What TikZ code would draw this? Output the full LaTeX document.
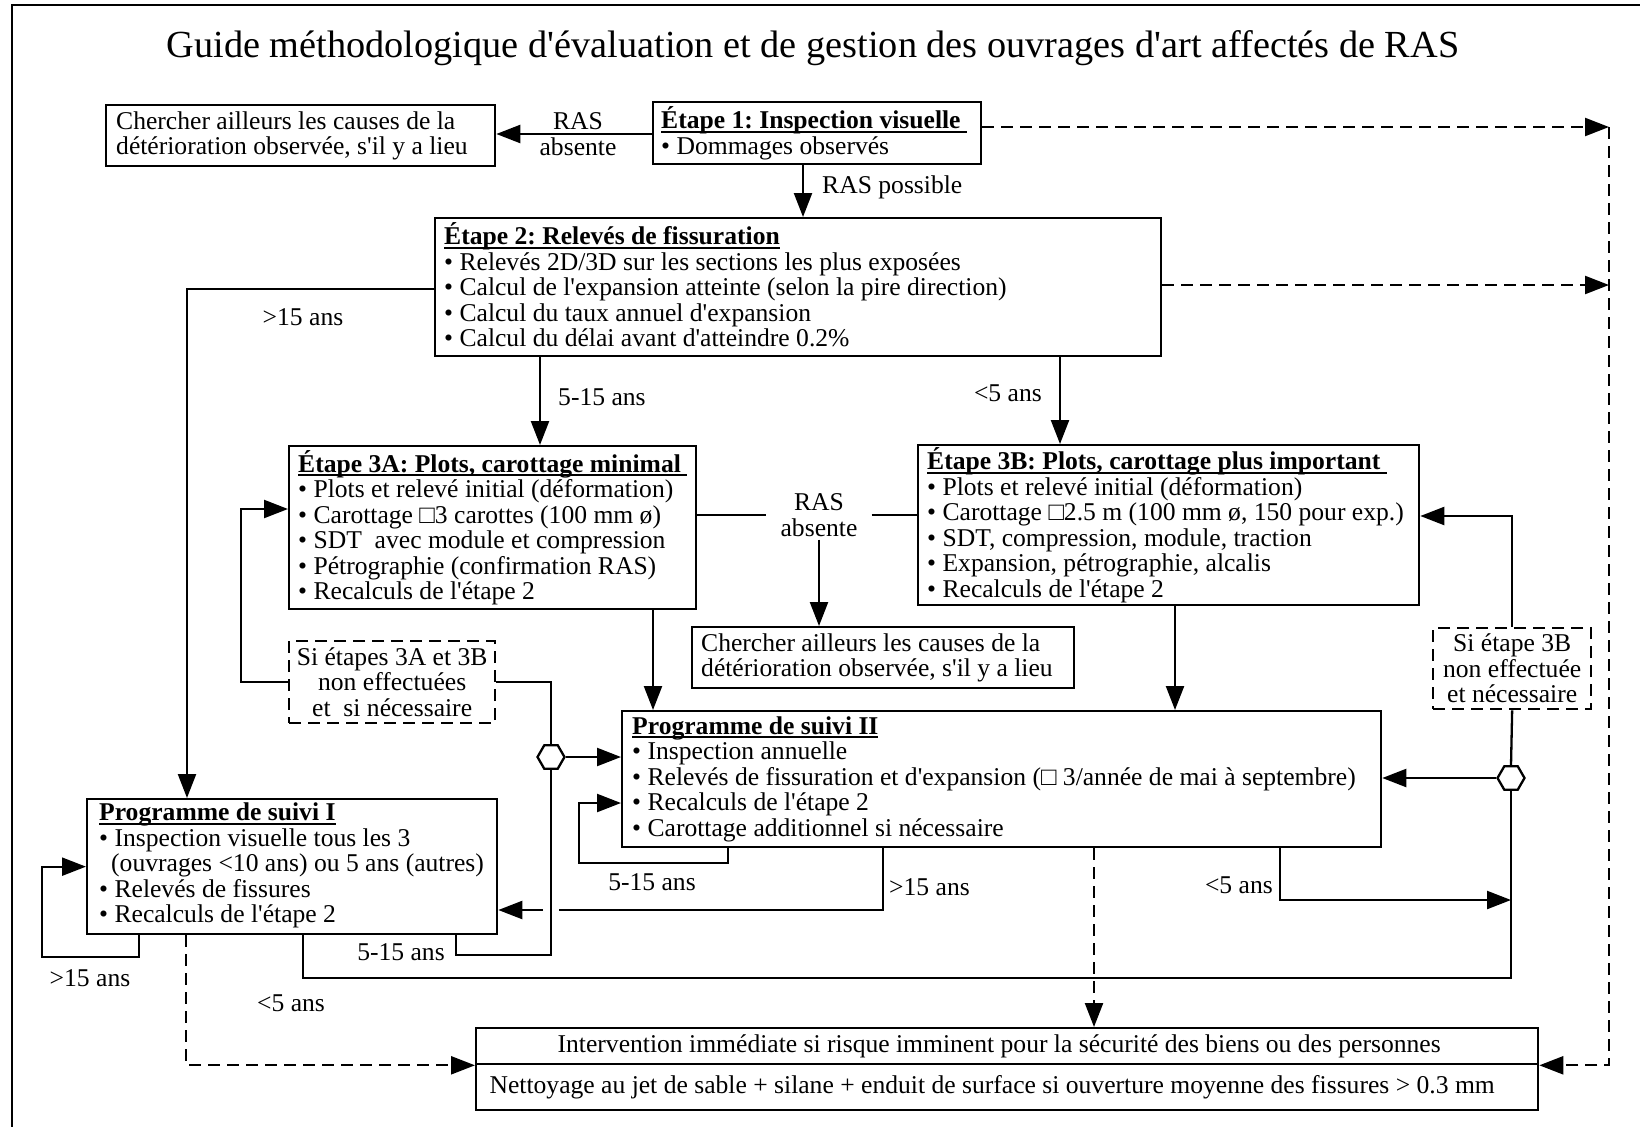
\documentclass[tikz,border=0pt]{standalone}
\usepackage{fontspec}
\setmainfont{Liberation Serif}
\usetikzlibrary{arrows.meta,shapes.geometric}
\newcommand{\bodyfont}{\fontsize{25.6}{25.5}\selectfont}
\newcommand{\titlefont}{\fontsize{38.3}{41}\selectfont}
\newcommand{\apo}{\textquotesingle}
\newsavebox\hdrbox
\newcommand{\hdr}[1]{\sbox\hdrbox{\bfseries #1}\rlap{\rule[-4pt]{\wd\hdrbox}{1.9pt}}\usebox\hdrbox}
\frenchspacing
\begin{document}
\begin{tikzpicture}[x=1pt,y=-1pt,
  bx/.style={draw,line width=2.3pt,inner sep=0pt,anchor=north west},
  dbx/.style={bx,dash pattern=on 12pt off 7pt},
  txt/.style={inner sep=0pt,align=left,font=\bodyfont,anchor=west},
  ctxt/.style={inner sep=0pt,align=center,font=\bodyfont},
  lbl/.style={inner sep=0pt,font=\bodyfont},
  con/.style={line width=2.3pt},
  tip/.style={-{Triangle[length=24pt,width=18pt]}},
  arr/.style={con,tip},
  dsh/.style={con,dash pattern=on 12pt off 7pt},
  dsharr/.style={dsh,tip},
  hex/.style={draw,line width=2.3pt,fill=white,regular polygon,regular polygon sides=6,minimum size=27pt,inner sep=0pt}
]
\useasboundingbox (0,0) rectangle (1640,1127);
\fill[white] (0,0) rectangle (1640,1127);
\draw[line width=2.3pt] (1640,5) -- (12,5) -- (12,1127);

\node[font=\titlefont,anchor=base,inner sep=0pt] (title) at (813,57) {Guide méthodologique d\apo évaluation et de gestion des ouvrages d\apo art affectés de RAS};

% boxes
\node[bx,minimum width=389pt,minimum height=61pt] (A) at (105,104) {};
\node[txt] (At) at ([xshift=11pt]A.west) {Chercher ailleurs les causes de la\\détérioration observée, s\apo il y a lieu};

\node[bx,minimum width=328pt,minimum height=62pt] (E1) at (652,101) {};
\node[txt] (E1t) at ([xshift=9pt]E1.west) {\hdr{Étape 1: Inspection visuelle\ }\\• Dommages observés};

\node[bx,minimum width=726pt,minimum height=138pt] (E2) at (434,217) {};
\node[txt] (E2t) at ([xshift=10pt,yshift=2pt]E2.west) {\hdr{Étape 2: Relevés de fissuration}\\• Relevés 2D/3D sur les sections les plus exposées\\• Calcul de l\apo expansion atteinte (selon la pire direction)\\• Calcul du taux annuel d\apo expansion\\• Calcul du délai avant d\apo atteindre 0.2\%};

\node[bx,minimum width=407pt,minimum height=163pt] (E3A) at (288,445) {};
\node[txt] (E3At) at ([xshift=10pt]E3A.west) {\hdr{Étape 3A: Plots, carottage minimal\ }\\• Plots et relevé initial (déformation)\\• Carottage □3 carottes (100 mm ø)\\• SDT\ \ avec module et compression\\• Pétrographie (confirmation RAS)\\• Recalculs de l\apo étape 2};

\node[bx,minimum width=501pt,minimum height=160pt] (E3B) at (917,444) {};
\node[txt] (E3Bt) at ([xshift=10pt]E3B.west) {\hdr{Étape 3B: Plots, carottage plus important\ }\\• Plots et relevé initial (déformation)\\• Carottage □2.5 m (100 mm ø, 150 pour exp.)\\• SDT, compression, module, traction\\• Expansion, pétrographie, alcalis\\• Recalculs de l\apo étape 2};

\node[bx,minimum width=382pt,minimum height=61pt] (C) at (691,626) {};
\node[txt] (Ct) at ([xshift=10pt]C.west) {Chercher ailleurs les causes de la\\détérioration observée, s\apo il y a lieu};

\node[dbx,minimum width=206pt,minimum height=82pt] (DL) at (288,640) {};
\node[ctxt] (DLt) at (DL.center) {Si étapes 3A et 3B\\non effectuées\\et\ \ si nécessaire};

\node[dbx,minimum width=158pt,minimum height=81pt] (DR) at (1432,627) {};
\node[ctxt] (DRt) at (DR.center) {Si étape 3B\\non effectuée\\et nécessaire};

\node[bx,minimum width=410pt,minimum height=135pt] (P1) at (86,798) {};
\node[txt] (P1t) at ([xshift=13pt,yshift=1pt]P1.west) {\hdr{Programme de suivi I}\\• Inspection visuelle tous les 3\\\hspace*{12pt}(ouvrages <10 ans) ou 5 ans (autres)\\• Relevés de fissures\\• Recalculs de l\apo étape 2};

\node[bx,minimum width=759pt,minimum height=136pt] (P2) at (621,710) {};
\node[txt] (P2t) at ([xshift=11pt]P2.west) {\hdr{Programme de suivi II}\\• Inspection annuelle\\• Relevés de fissuration et d\apo expansion (□ 3/année de mai à septembre)\\• Recalculs de l\apo étape 2\\• Carottage additionnel si nécessaire};

\node[bx,minimum width=1062pt,minimum height=36pt] (bot1) at (475,1027) {};
\node[ctxt] (bot1t) at ([xshift=-8pt]bot1.center) {Intervention immédiate si risque imminent pour la sécurité des biens ou des personnes};
\node[bx,minimum width=1062pt,minimum height=46pt] (bot2) at (475,1063) {};
\node[ctxt] (bot2t) at ([xshift=-15pt]bot2.center) {Nettoyage au jet de sable + silane + enduit de surface si ouverture moyenne des fissures > 0.3 mm};

\node[hex] (hexL) at (551,757) {};
\node[hex] (hexR) at (1511,778) {};

% rails
\coordinate (d0) at (0,134);
\coordinate (v1) at (803,0);
\coordinate (rx) at (1609,0);
\coordinate (d1) at (0,127);
\coordinate (d2) at (0,285);
\coordinate (d3) at (0,289);
\coordinate (v3) at (187,0);
\coordinate (v4) at (540,0);
\coordinate (v5) at (1060,0);
\coordinate (v6) at (653,0);
\coordinate (v7) at (1175,0);
\coordinate (cL) at (241,509);
\coordinate (v8) at (456,955);
\coordinate (lp1) at (42,957);
\coordinate (v9) at (139,0);
\coordinate (v10) at (303,978);
\coordinate (v11) at (186,0);
\coordinate (lp2) at (579,863);
\coordinate (v12) at (728,0);
\coordinate (h803) at (0,803);
\coordinate (v13) at (883,910);
\coordinate (g1) at (559,910);
\coordinate (g2) at (543,910);
\coordinate (v14) at (1280,900);
\coordinate (v15) at (1094,0);
\coordinate (h516) at (0,516);

% connectors
\draw[arr] (E1.west |- d0) -- (A.east |- d0);
\node[lbl,align=center] (l1) at (578,134) {RAS\\absente};

\draw[arr] (E1.south -| v1) -- (E2.north -| v1);
\node[lbl,anchor=west] (l2) at (822,187) {RAS possible};

\draw[dsharr] (E1.east |- d1) -- (rx |- d1);
\draw[dsharr] (rx |- d1) |- (bot1.south east);
\draw[dsharr] (E2.east |- d2) -- (rx |- d2);

\draw[arr] (E2.west |- d3) -| (P1.north -| v3);
\node[lbl] (l3) at (303,317) {>15 ans};

\draw[arr] (E2.south -| v4) -- (E3A.north -| v4);
\node[lbl,anchor=west] (l4) at (558,397) {5-15 ans};
\draw[arr] (E2.south -| v5) -- (E3B.north -| v5);
\node[lbl,anchor=east] (l5) at (1042,393) {<5 ans};

\node[lbl,align=center,inner xsep=14pt,inner ysep=3pt] (ras2) at (819,515) {RAS\\absente};
\draw[con] (E3A.east |- ras2) -- (ras2.west);
\draw[con] (ras2.east) -- (E3B.west |- ras2);
\draw[arr] (ras2.south) -- (C.north -| ras2.south);

\draw[arr] (E3A.south -| v6) -- (P2.north -| v6);
\draw[arr] (E3B.south -| v7) -- (P2.north -| v7);

\draw[arr] (DL.west) -| (cL) -- (cL -| E3A.west);
\draw[con] (DL.east) -| (hexL.north);
\draw[arr] (hexL.east) -- (hexL.east -| P2.west);

\draw[con] (P1.south -| v8) |- (v8 -| hexL.south) -- (hexL.south);
\node[lbl] (l6) at (401,952) {5-15 ans};

\draw[arr] (P1.south -| v9) |- (lp1) |- (P1.west);
\node[lbl] (l7) at (90,978) {>15 ans};

\draw[con] (P1.south -| v10) |- (v10 -| hexR.south) -- (hexR.south);
\node[lbl] (l8) at (291,1003) {<5 ans};

\draw[dsharr] (P1.south -| v11) |- (bot1.south west);

\draw[arr] (P2.south -| v12) |- (lp2) |- (P2.west |- h803);
\node[lbl] (l9) at (652,882) {5-15 ans};

\draw[con] (P2.south -| v13) |- (g1);
\draw[arr] (g2) -- (g2 -| P1.east);
\node[lbl,anchor=west] (l10) at (889,887) {>15 ans};

\draw[arr] (P2.south -| v14) |- (v14 -| hexR.south);
\node[lbl,anchor=east] (l11) at (1273,885) {<5 ans};

\draw[dsharr] (P2.south -| v15) -- (bot1.north -| v15);

\draw[arr] (DR.north) |- (E3B.east |- h516);
\draw[con] (DR.south) -- (hexR.north);
\draw[arr] (hexR.west) -- (hexR.west -| P2.east);
\end{tikzpicture}
\end{document}
